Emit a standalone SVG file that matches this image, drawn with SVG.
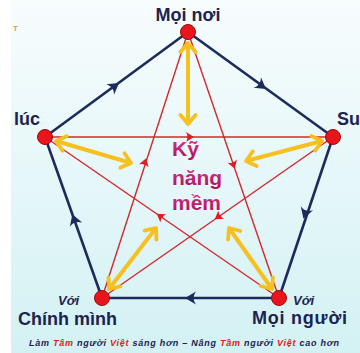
<svg xmlns="http://www.w3.org/2000/svg" width="360" height="353" viewBox="0 0 360 353">
<defs>
<linearGradient id="bg" x1="0" y1="0" x2="0" y2="1">
<stop offset="0" stop-color="#f7fcfd"/>
<stop offset="0.5" stop-color="#e6f7f9"/>
<stop offset="1" stop-color="#d3f1f3"/>
</linearGradient>
<linearGradient id="mag" x1="0" y1="0" x2="0" y2="1">
<stop offset="0" stop-color="#d8378a"/>
<stop offset="1" stop-color="#a8105a"/>
</linearGradient>
<path id="navyHead" d="M5,0 L-6,-6.5 Q-3,-2 -4,0 Q-3,2 -6,6.5 Z"/>
<path id="redHead" d="M4,0 L-4,-5 Q-2,-1.5 -3,0 Q-2,1.5 -4,5 Z"/>
<marker id="yh" viewBox="-12 -10 16 20" refX="0" refY="0" markerWidth="16" markerHeight="20" markerUnits="userSpaceOnUse" orient="auto-start-reverse">
<path d="M-9,-7.5 L0,0 L-9,7.5" fill="none" stroke="#f6c01e" stroke-width="3.8" stroke-linecap="round" stroke-linejoin="round"/>
</marker>
<style>
.navy{stroke:#1c2b5c;stroke-width:2.6;fill:none}
.red{stroke:#d4282c;stroke-width:1.4;fill:none}
.yel{stroke:#f6c01e;stroke-width:4;fill:none;marker-start:url(#yh);marker-end:url(#yh)}
.nh{fill:#1c2b5c}
.rh{fill:#dc1e24}
.node{fill:#e8161c;stroke:#9a0a0a;stroke-width:1}
.lbl{font-family:"Liberation Sans",Arial,sans-serif;font-weight:bold;font-size:18px;fill:#1c2350}
.voi{font-family:"Liberation Sans",Arial,sans-serif;font-weight:bold;font-style:italic;font-size:13px;fill:#1c2350}
.ctr{font-family:"Liberation Sans",Arial,sans-serif;font-weight:bold;font-size:21px;fill:url(#mag);stroke:#ffffff;stroke-width:0.6;paint-order:stroke}
.cap{font-family:"Liberation Sans",Arial,sans-serif;font-weight:bold;font-style:italic;font-size:9px;fill:#1c2350}
.capr{fill:#e02020}
</style>
</defs>
<rect x="0" y="0" width="360" height="353" fill="#ffffff"/>
<rect x="11" y="0" width="349" height="353" fill="url(#bg)"/>
<g id="logo">
<text x="13" y="31" font-family="Liberation Sans,Arial,sans-serif" font-weight="bold" font-size="8" fill="#d9a040">T</text>
</g>
<g id="connectors">
<line class="navy" x1="45" y1="137" x2="188" y2="32"/>
<line class="navy" x1="188" y1="32" x2="333" y2="137"/>
<line class="navy" x1="333" y1="137" x2="279" y2="298"/>
<line class="navy" x1="279" y1="298" x2="102" y2="298"/>
<line class="navy" x1="102" y1="298" x2="45" y2="137"/>
<use href="#navyHead" class="nh" transform="translate(115,86) rotate(-36.3)"/>
<use href="#navyHead" class="nh" transform="translate(262,86) rotate(35.9)"/>
<use href="#navyHead" class="nh" transform="translate(305,214) rotate(108.5)"/>
<use href="#navyHead" class="nh" transform="translate(190,298) rotate(180)"/>
<use href="#navyHead" class="nh" transform="translate(74,219) rotate(-109.5)"/>
<line class="red" x1="45" y1="137" x2="333" y2="137"/>
<line class="red" x1="333" y1="137" x2="102" y2="298"/>
<line class="red" x1="102" y1="298" x2="188" y2="32"/>
<line class="red" x1="188" y1="32" x2="279" y2="298"/>
<line class="red" x1="279" y1="298" x2="45" y2="137"/>
<use href="#redHead" class="rh" transform="translate(190,137)"/>
<use href="#redHead" class="rh" transform="translate(145,162) rotate(-72.1)"/>
<use href="#redHead" class="rh" transform="translate(233.5,165) rotate(71.1)"/>
<use href="#redHead" class="rh" transform="translate(160,216) rotate(-145.5)"/>
<use href="#redHead" class="rh" transform="translate(218,217) rotate(145.1)"/>
<line class="yel" x1="188" y1="43" x2="188" y2="124"/>
<line class="yel" x1="56" y1="141" x2="131" y2="163"/>
<line class="yel" x1="322" y1="141" x2="246" y2="161"/>
<line class="yel" x1="109" y1="289" x2="156" y2="228"/>
<line class="yel" x1="272" y1="289" x2="229" y2="228"/>
</g>
<g id="node-top"><circle class="node" cx="188" cy="32" r="7.5"/><text class="lbl" x="188" y="21" text-anchor="middle">Mọi nơi</text></g>
<g id="node-left"><circle class="node" cx="45" cy="137" r="7.5"/><text class="lbl" x="14" y="125">lúc</text></g>
<g id="node-right"><circle class="node" cx="333" cy="137" r="7.5"/><text class="lbl" x="337" y="125">Su</text></g>
<g id="node-bottom-left"><circle class="node" cx="102" cy="298" r="7.5"/><text class="voi" x="58" y="305">Với</text><text class="lbl" x="18" y="325" textLength="99">Chính mình</text></g>
<g id="node-bottom-right"><circle class="node" cx="279" cy="298" r="7.5"/><text class="voi" x="293" y="305">Với</text><text class="lbl" x="252" y="324" textLength="95">Mọi người</text></g>
<g id="center">
<text class="ctr" x="172" y="156">Kỹ</text>
<text class="ctr" x="172" y="185">năng</text>
<text class="ctr" x="172" y="210">mềm</text>
</g>
<g id="caption">
<text class="cap" x="29" y="346" textLength="310">Làm <tspan class="capr">Tâm</tspan> người <tspan class="capr">Việt</tspan> sáng hơn – Nâng <tspan class="capr">Tầm</tspan> người <tspan class="capr">Việt</tspan> cao hơn</text>
</g>
</svg>
